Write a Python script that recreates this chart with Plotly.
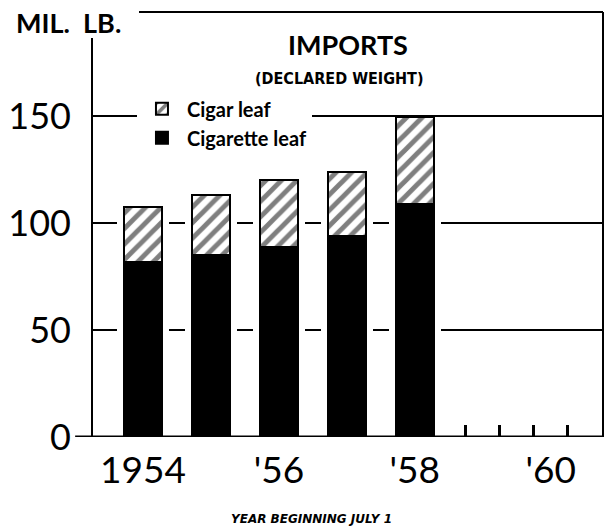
import plotly.graph_objects as go

years = [1954, 1955, 1956, 1957, 1958]
cigarette_leaf = [82, 85, 89, 94, 109]
cigar_leaf = [25.5, 28, 31, 30, 40.5]
totals = [a + b for a, b in zip(cigarette_leaf, cigar_leaf)]

y_tick_vals = [0, 50, 100, 150]
y_tick_text = ["0", "50", "100", "150"]
x_label_vals = [1954, 1956, 1958, 1960]
x_label_text = ["1954", "'56", "'58", "'60"]
tick_years = [1954, 1955, 1956, 1957, 1958, 1959, 1960]

BAR_W = 0.56
HALO_W = 0.77

fig = go.Figure()
# white halo behind bars (breaks gridlines around bars)
fig.add_trace(go.Bar(x=years, y=totals, width=HALO_W, marker=dict(color="white", line=dict(width=0)),
                     showlegend=False, hoverinfo="skip"))
fig.add_trace(go.Bar(x=years, y=cigarette_leaf, width=BAR_W, name="Cigarette leaf",
                     marker=dict(color="black", line=dict(color="black", width=2)), legendrank=2))
fig.add_trace(go.Bar(x=years, y=cigar_leaf, base=cigarette_leaf, width=BAR_W, name="Cigar leaf",
                     marker=dict(color="white", line=dict(color="black", width=2),
                                 pattern=dict(shape="/", fgcolor="black", bgcolor="white", size=11, solidity=0.45)),
                     legendrank=1))

minor_ticks = []
for y in tick_years:
    minor_ticks += [y - 0.25, y + 0.25]

fig.update_layout(
    width=611, height=528,
    margin=dict(l=92, r=8, t=12, b=91, autoexpand=False),
    paper_bgcolor="white", plot_bgcolor="white",
    barmode="overlay",
    bargap=0,
    font=dict(family="Lato, DejaVu Sans, sans-serif", color="black"),
    xaxis=dict(range=[1953.25, 1960.77], tickmode="array", tickvals=x_label_vals, ticktext=x_label_text,
               ticks="", showgrid=False, zeroline=False, showline=False, automargin=False,
               tickfont=dict(size=37, family="Lato, sans-serif", color="black"), ticklabelstandoff=8,
               minor=dict(tickmode="array", tickvals=minor_ticks, ticks="inside", ticklen=12, tickwidth=2.5,
                          tickcolor="black", showgrid=False)),
    yaxis=dict(range=[0, 198.6], tickmode="array", tickvals=y_tick_vals, ticktext=y_tick_text,
               ticks="", showgrid=True, gridcolor="black", gridwidth=2, zeroline=False, showline=False,
               automargin=False,
               tickfont=dict(size=36, family="Lato, sans-serif", color="black"), ticklabelstandoff=20),
    legend=dict(x=0.088, y=0.818, xanchor="left", yanchor="top", bgcolor="white",
                font=dict(size=20, family="Lato, sans-serif", weight=700, color="black"),
                itemwidth=40, tracegroupgap=10),
    shapes=[
        dict(type="line", xref="paper", yref="y", x0=-0.033, x1=1, y0=0, y1=0, line=dict(color="black", width=3)),
        dict(type="line", xref="paper", yref="paper", x0=0, x1=0, y0=0, y1=0.939, line=dict(color="black", width=2)),
        dict(type="line", xref="paper", yref="paper", x0=0.092, x1=1, y0=1, y1=1, line=dict(color="black", width=2)),
        dict(type="line", xref="paper", yref="paper", x0=1, x1=1, y0=0, y1=1, line=dict(color="black", width=2)),
    ],
    annotations=[
        dict(text="MIL.&nbsp;&nbsp;LB.", xref="paper", yref="paper", x=-0.153, y=1.0, xanchor="left",
             yanchor="middle", yshift=-10, showarrow=False,
             font=dict(size=27, weight=700, family="Lato, sans-serif")),
        dict(text="IMPORTS", xref="paper", yref="paper", x=(348 - 92) / 511, y=(437 - 45) / 425,
             xanchor="center", yanchor="middle", showarrow=False,
             font=dict(size=27, weight=700, family="Lato, sans-serif")),
        dict(text="(DECLARED WEIGHT)", xref="paper", yref="paper", x=(339 - 92) / 511, y=(437 - 79) / 425,
             xanchor="center", yanchor="middle", showarrow=False,
             font=dict(size=16, weight=700, family="DejaVu Sans Condensed, DejaVu Sans, sans-serif")),
        dict(text="<i>YEAR BEGINNING JULY 1</i>", xref="paper", yref="paper", x=(311 - 92) / 511,
             y=(437 - 519) / 425, xanchor="center", yanchor="middle", showarrow=False,
             font=dict(size=12, weight=700, family="DejaVu Sans, sans-serif")),
    ],
)

fig.write_html("out.html", config={"displayModeBar": False},
               post_script="document.body.style.margin='0';document.body.style.overflow='hidden';")
